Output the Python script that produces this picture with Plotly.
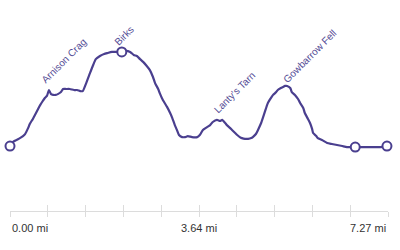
import plotly.graph_objects as go

# Route elevation profile (distance in miles, elevation in metres)
distance_mi = [0.00, 0.06, 0.13, 0.19, 0.25, 0.29, 0.35, 0.38, 0.44, 0.48, 0.54, 0.58, 0.63, 0.67, 0.71,
               0.75, 0.79, 0.83, 0.88, 0.92, 0.98, 1.02, 1.08, 1.15, 1.23, 1.29, 1.35, 1.40, 1.46, 1.54,
               1.60, 1.65, 1.73, 1.81, 1.88, 1.96, 2.02, 2.10, 2.15, 2.23, 2.31, 2.38, 2.44, 2.50, 2.56,
               2.63, 2.69, 2.75, 2.79, 2.85, 2.88, 2.94, 3.02, 3.08, 3.12, 3.17, 3.21, 3.25, 3.31, 3.37,
               3.42, 3.50, 3.60, 3.65, 3.71, 3.79, 3.85, 3.90, 3.98, 4.04, 4.08, 4.14, 4.17, 4.23, 4.27,
               4.33, 4.37, 4.42, 4.46, 4.52, 4.58, 4.64, 4.67, 4.73, 4.77, 4.83, 4.87, 4.92, 4.96, 5.02,
               5.06, 5.12, 5.15, 5.21, 5.25, 5.29, 5.33, 5.39, 5.42, 5.48, 5.54, 5.58, 5.64, 5.67, 5.73,
               5.77, 5.81, 5.83, 5.89, 5.92, 6.00, 6.10, 6.19, 6.29, 6.39, 6.48, 6.56, 6.64, 6.73, 6.83,
               6.92, 7.02, 7.12, 7.25]
elevation_m = [254, 270, 278, 285, 293, 301, 325, 340, 360, 375, 399, 414, 430, 442, 450,
               473, 457, 454, 454, 457, 465, 477, 477, 477, 473, 473, 469, 469, 497, 540,
               571, 594, 606, 614, 618, 622, 622, 622, 622, 626, 622, 610, 606, 594, 583,
               567, 551, 524, 500, 477, 461, 434, 407, 383, 364, 336, 317, 297, 289, 289,
               293, 289, 289, 297, 317, 328, 336, 348, 356, 352, 356, 344, 336, 325, 317,
               305, 297, 289, 285, 282, 282, 285, 289, 301, 317, 344, 368, 399, 422, 442,
               454, 465, 473, 481, 485, 489, 489, 481, 465, 454, 438, 422, 403, 383, 360,
               344, 321, 305, 293, 285, 278, 266, 262, 258, 254, 250, 250, 250, 250, 250,
               250, 250, 250, 254]

# Waypoint markers
marker_mi = [0.00, 2.15, 6.64, 7.25]
marker_m = [254, 622, 250, 254]

# Summit labels
peak_names = ["Arnison Crag", "Birks", "Lanty's Tarn", "Gowbarrow Fell"]
peak_mi = [0.75, 2.15, 4.06, 5.31]
peak_m = [473, 622, 356, 489]

# Axis labels
total_mi = 7.27
axis_label_mi = [0.00, 3.64, 7.27]
axis_label_text = ["0.00 mi", "3.64 mi", "7.27 mi"]
tick_mi = [round(total_mi * i / 10, 3) for i in range(11)]

LINE = "#4a3f8f"
GRID = "#dcdcdc"
label_offsets = {"Gowbarrow Fell": (4, -4)}

fig = go.Figure()
fig.add_trace(go.Scatter(x=distance_mi, y=elevation_m, mode="lines",
                         line=dict(color=LINE, width=2.2, shape="spline", smoothing=0.5),
                         hoverinfo="skip"))
fig.add_trace(go.Scatter(x=marker_mi, y=marker_m, mode="markers", cliponaxis=False,
                         marker=dict(size=9, color="white", line=dict(color=LINE, width=2)),
                         hoverinfo="skip"))
# invisible trace to activate the overlaid tick axis
fig.add_trace(go.Scatter(x=[0, total_mi], y=[None, None], xaxis="x2", mode="lines",
                         hoverinfo="skip"))

for name, px, pm in zip(peak_names, peak_mi, peak_m):
    dx, dy = label_offsets.get(name, (0, 0))
    fig.add_annotation(x=px, y=pm, text=name, showarrow=False, textangle=-45,
                       xanchor="left", yanchor="bottom", xshift=-12 + dx, yshift=2 + dy,
                       font=dict(family="Liberation Sans, Arial", size=10, color="#554d96"))

anchors = ["left", "center", "right"]
for v, t, a in zip(axis_label_mi, axis_label_text, anchors):
    fig.add_annotation(x=v, y=0, xref="x", yref="paper", text=t, showarrow=False,
                       xanchor=a, yanchor="middle", yshift=-17,
                       font=dict(family="Liberation Sans, Arial", size=11, color="#333333"))

fig.update_layout(
    width=400, height=250,
    margin=dict(l=10, r=12, t=0, b=39),
    paper_bgcolor="white", plot_bgcolor="white",
    showlegend=False,
    xaxis=dict(range=[0, total_mi], showgrid=False, zeroline=False, showline=True,
               linecolor=GRID, linewidth=1, tickmode="array", tickvals=tick_mi,
               ticks="outside", ticklen=5, tickcolor=GRID, tickwidth=1,
               showticklabels=False, fixedrange=True),
    xaxis2=dict(range=[0, total_mi], overlaying="x", side="bottom", anchor="y",
                showgrid=False, zeroline=False, showline=False, tickmode="array",
                tickvals=tick_mi, ticks="inside", ticklen=6, tickcolor=GRID, tickwidth=1,
                showticklabels=False, fixedrange=True),
    yaxis=dict(range=[0, 825], visible=False, fixedrange=True),
)

fig.write_html("out.html")
